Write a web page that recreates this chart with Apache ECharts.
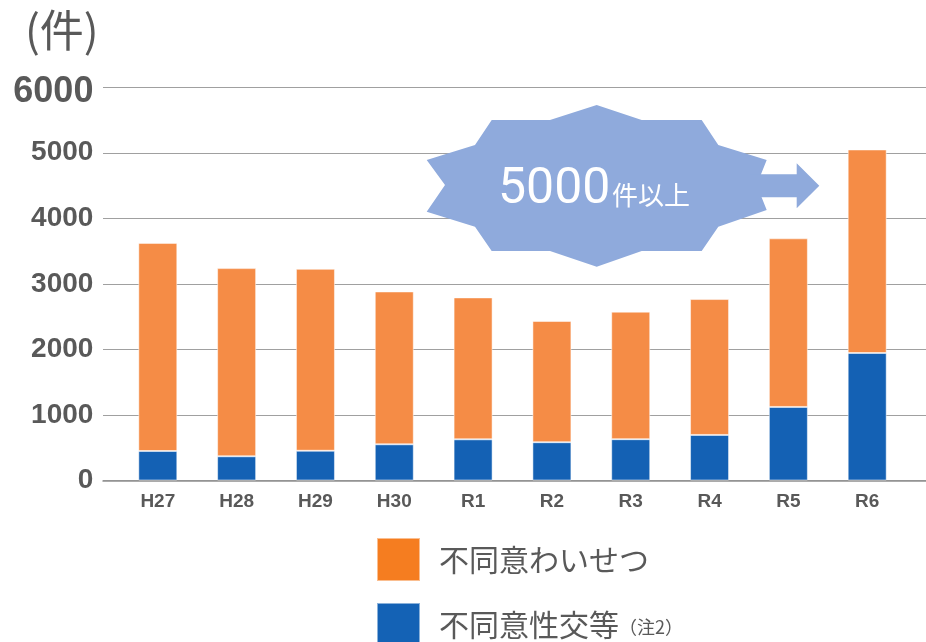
<!DOCTYPE html>
<html lang="ja">
<head>
    <meta charset="UTF-8">
    <title>不同意わいせつ・不同意性交等</title>
    <script src="https://cdn.jsdelivr.net/npm/echarts@6/dist/echarts.min.js"></script>
    <style>
        html, body { margin: 0; padding: 0; background: #fff; }
        #chart { width: 926px; height: 642px; }
    </style>
</head>
<body>
<div id="chart"></div>
<script>
    // データ
    var years = ['H27', 'H28', 'H29', 'H30', 'R1', 'R2', 'R3', 'R4', 'R5', 'R6'];
    var seikoData = [450, 369, 454, 552, 628, 584, 630, 695, 1122, 1945];       // 不同意性交等
    var waisetsuData = [3175, 2871, 2775, 2332, 2165, 1849, 1946, 2073, 2572, 3105]; // 不同意わいせつ
    var yTicks = [0, 1000, 2000, 3000, 4000, 5000, 6000];

    var textColor = '#595959';
    var gridColor = '#a0a0a0';
    var burstColor = '#8faadc';

    var myChart = echarts.init(document.getElementById('chart'));

    var option = {
        animation: false,
        title: {
            text: '(件)',
            left: 20,
            top: 3,
            textStyle: {
                fontFamily: 'Noto Sans CJK JP',
                fontSize: 44,
                fontWeight: 'normal',
                color: textColor
            }
        },
        // grid 0: 棒グラフ, grid 1: 目盛線（左右にはみ出す分）
        grid: [
            { left: 118.4, right: 19.4, top: 87.2, bottom: 161.5 },
            { left: 103, right: 0, top: 87.2, bottom: 161.5 }
        ],
        legend: {
            orient: 'vertical',
            left: 376,
            top: 537,
            height: 200,
            padding: 0,
            itemWidth: 43,
            itemHeight: 43,
            itemGap: 20,
            icon: 'rect',
            selectedMode: false,
            data: [
                { name: '不同意わいせつ', itemStyle: { color: '#f57d20' } },
                { name: '不同意性交等', itemStyle: { color: '#1462b5' } }
            ],
            formatter: function (name) {
                if (name === '不同意性交等') {
                    return '{a|不同意性交等}{b|（注2）}';
                }
                return '{a|' + name + '}';
            },
            textStyle: {
                color: textColor,
                padding: [0, 0, 0, 14],
                rich: {
                    a: { fontFamily: 'Noto Sans CJK JP', fontSize: 30, color: textColor },
                    b: { fontFamily: 'Noto Sans CJK JP', fontSize: 18, color: textColor, padding: [6, 0, 0, 0] }
                }
            }
        },
        xAxis: [
            {
                type: 'category',
                gridIndex: 0,
                data: years,
                axisLine: { show: false },
                axisTick: { show: false },
                axisLabel: {
                    margin: 12,
                    fontFamily: 'Liberation Sans',
                    fontWeight: 'bold',
                    fontSize: 19,
                    color: textColor
                }
            },
            {
                type: 'value',
                gridIndex: 1,
                min: 0,
                max: 1,
                axisLine: { show: true, lineStyle: { color: '#909090', width: 1.5 } },
                axisTick: { show: false },
                axisLabel: { show: false },
                splitLine: { show: false }
            }
        ],
        yAxis: [
            {
                type: 'value',
                gridIndex: 0,
                min: yTicks[0],
                max: yTicks[yTicks.length - 1],
                interval: 1000,
                axisLine: { show: false },
                axisTick: { show: false },
                splitLine: { show: false },
                axisLabel: {
                    margin: 25,
                    fontFamily: 'Liberation Sans',
                    fontWeight: 'bold',
                    fontSize: 28,
                    color: textColor,
                    formatter: function (v) {
                        return v === 6000 ? '{big|' + v + '}' : String(v);
                    },
                    rich: {
                        big: {
                            fontFamily: 'Liberation Sans',
                            fontWeight: 'bold',
                            fontSize: 36,
                            color: textColor,
                            padding: [10, 0, 0, 0]
                        }
                    }
                }
            },
            {
                type: 'value',
                gridIndex: 1,
                min: yTicks[0],
                max: yTicks[yTicks.length - 1],
                interval: 1000,
                axisLine: { show: false },
                axisTick: { show: false },
                axisLabel: { show: false },
                splitLine: { show: true, lineStyle: { color: gridColor, width: 1.2 } }
            }
        ],
        series: [
            {
                name: '不同意性交等',
                type: 'bar',
                stack: 'total',
                barWidth: 39,
                z: 3,
                data: seikoData,
                itemStyle: { color: '#1461b4', borderColor: 'rgba(255,255,255,0.5)', borderWidth: 1 }
            },
            {
                name: '不同意わいせつ',
                type: 'bar',
                stack: 'total',
                barWidth: 39,
                z: 3,
                data: waisetsuData,
                itemStyle: { color: '#f58c46', borderColor: 'rgba(255,255,255,0.5)', borderWidth: 1 }
            }
        ],
        graphic: [
            {
                type: 'polygon',
                z: 100,
                shape: {
                    points: [
                        [596.7, 105], [641.7, 120], [701.7, 120], [718.3, 145], [766.7, 160],
                        [756.7, 185], [766.7, 210], [718.3, 226.7], [701.7, 251], [641.7, 251],
                        [596.7, 266.7], [550, 251], [491.7, 251], [475, 226.7], [426.7, 211.7],
                        [445, 185], [426.7, 160], [475, 145], [491.7, 120], [550, 120]
                    ]
                },
                style: { fill: burstColor }
            },
            {
                type: 'polygon',
                z: 100,
                shape: {
                    points: [
                        [750, 174.3], [796.7, 174.3], [796.7, 163.3], [819.3, 185.7],
                        [796.7, 208.3], [796.7, 197.3], [750, 197.3]
                    ]
                },
                style: { fill: burstColor }
            },
            {
                type: 'text',
                z: 101,
                style: {
                    x: 498,
                    y: 190,
                    text: '5000',
                    fill: '#fff',
                    font: '50px Roboto',
                    textAlign: 'left',
                    textVerticalAlign: 'middle'
                }
            },
            {
                type: 'text',
                z: 101,
                style: {
                    x: 612,
                    y: 195,
                    text: '件以上',
                    fill: '#fff',
                    font: '26px "Noto Sans CJK JP"',
                    textAlign: 'left',
                    textVerticalAlign: 'middle'
                }
            }
        ]
    };

    myChart.setOption(option);
</script>
</body>
</html>
